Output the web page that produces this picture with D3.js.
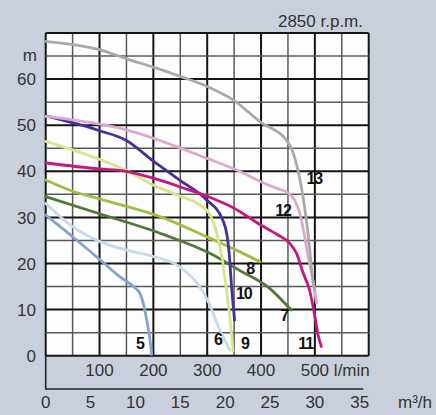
<!DOCTYPE html>
<html lang="en">
<head>
    <meta charset="UTF-8">
    <title>Pump curves 2850 rpm</title>
    <script src="https://cdn.jsdelivr.net/npm/d3@7"></script>
    <style>
        body { margin: 0; background: #c9d0dc; }
        text { font-family: "Liberation Sans", Arial, sans-serif; fill: #333; }
        .curveLabel { font-weight: bold; fill: #111; letter-spacing: -1px; }
    </style>
</head>
<body>
<div id="chart"></div>

<script>
    const width = 436;
    const height = 415;

    // head (m) against flow (l/min)
    const pump5 = [[0, 30.5], [50, 25.8], [100, 20.9], [138, 17.1], [163, 15], [175, 13.5], [183, 10.5], [188, 7.5], [193, 4], [197, 0.3]];
    const pump6 = [[0, 33], [50, 28], [100, 24.8], [150, 22.9], [200, 21.5], [250, 19.2], [286, 15], [305, 11], [320, 6.5], [332, 3.5], [342, 1.2]];
    const pump7 = [[0, 34.5], [100, 30.8], [221, 26.2], [305, 22.2], [360, 18.5], [416, 14.6], [456, 9.9]];
    const pump8 = [[0, 38.1], [45, 35.9], [100, 34], [221, 29.8], [305, 25.5], [354, 22.9], [398, 20.4]];
    const pump9 = [[0, 46.5], [100, 42.6], [150, 40.2], [200, 37], [250, 34.6], [285, 32.8], [305, 30.6], [318, 26.5], [328, 21], [336, 14], [342, 8.5], [348, 1]];
    const pump10 = [[0, 52], [100, 48.8], [150, 46.7], [200, 42.2], [250, 38], [296, 34.1], [329, 29.4], [337, 26], [341, 22], [344, 17], [347, 12.5], [351, 7.7]];
    const pump11 = [[0, 41.8], [100, 40.5], [150, 40], [200, 38.5], [250, 36.6], [300, 34.6], [350, 32], [400, 28.3], [430, 26.3], [453, 24.4], [466, 22.2], [478, 18], [490, 14.3], [500, 8.5], [506, 4.5], [512, 2]];
    const pump12 = [[0, 51.9], [150, 49], [300, 42.8], [360, 40], [410, 37.2], [430, 36.3], [450, 35.3], [462, 33.8], [472, 30.9], [480, 26.5], [486, 22.5], [492, 19], [497, 16], [503, 11.4]];
    const pump13 = [[0, 68.2], [50, 67.5], [100, 66.4], [150, 64.4], [200, 62.6], [250, 60.6], [300, 58.4], [348, 55.5], [401, 50.5], [447, 46.8], [458, 44.5], [468, 40.5], [478, 34.5], [490, 23.6], [496, 16.4], [500, 14.2]];

    const pumpNames = ["5", "6", "7", "8", "9", "10", "11", "12", "13"];
    const pumpColors = ["#86a2cf", "#c9d9ea", "#4f7a3a", "#a3bf3f", "#d8e48c", "#45309a", "#c41a7e", "#dca8cc", "#a9a9a9"];
    // where each number sits, in l/min and m
    const labelFlow = [175, 320, 443, 380, 370, 368, 483, 441, 499];
    const labelHead = [2.7, 3.6, 8.8, 19, 2.7, 13.5, 2.7, 31.6, 38.6];

    const headTicks = [0, 10, 20, 30, 40, 50, 60];
    const flowTicks = [100, 200, 300, 400, 500];
    const cubicTicks = [0, 5, 10, 15, 20, 25, 30, 35];

    const pumps = [pump5, pump6, pump7, pump8, pump9, pump10, pump11, pump12, pump13];

    const x = d3.scaleLinear().domain([0, 600]).range([45.7, 368.7]);
    const y = d3.scaleLinear().domain([0, 70]).range([355.7, 33]);

    const svg = d3.select("#chart")
        .append("svg")
        .attr("width", width)
        .attr("height", height);

    svg.append("rect")
        .attr("width", width)
        .attr("height", height)
        .attr("fill", "#c9d0dc");

    svg.append("rect")
        .attr("x", x(0))
        .attr("y", y(70))
        .attr("width", x(600) - x(0))
        .attr("height", y(0) - y(70))
        .attr("fill", "#fdfdfd");

    // grid: thin every 50 l/min and 5 m, heavy every 100 l/min and 10 m
    const grid = svg.append("g");
    grid.selectAll("line.v").data(d3.range(0, 601, 50)).enter()
        .append("line")
        .attr("class", "v")
        .attr("x1", d => x(d)).attr("x2", d => x(d))
        .attr("y1", y(0)).attr("y2", y(70))
        .attr("stroke", d => d % 100 === 0 ? "#151515" : "#5a5a5a")
        .attr("stroke-width", d => d % 100 === 0 ? 2 : 1.5);

    grid.selectAll("line.h").data(d3.range(0, 71, 5)).enter()
        .append("line")
        .attr("class", "h")
        .attr("y1", d => y(d)).attr("y2", d => y(d))
        .attr("x1", x(0)).attr("x2", x(600))
        .attr("stroke", d => d % 10 === 0 ? "#151515" : "#5a5a5a")
        .attr("stroke-width", d => d % 10 === 0 ? 2 : 1.5);

    const line = d3.line()
        .x(d => x(d[0]))
        .y(d => y(d[1]))
        .curve(d3.curveMonotoneX);

    svg.append("g").selectAll("path").data(pumps).enter()
        .append("path")
        .attr("d", line)
        .attr("fill", "none")
        .attr("stroke", (d, i) => pumpColors[i])
        .attr("stroke-width", 2.8)
        .attr("stroke-linecap", "round");

    svg.append("g").selectAll("text").data(pumpNames).enter()
        .append("text")
        .attr("class", "curveLabel")
        .attr("x", (d, i) => x(labelFlow[i]))
        .attr("y", (d, i) => y(labelHead[i]))
        .attr("text-anchor", "middle")
        .attr("dy", "0.36em")
        .attr("font-size", 16)
        .text(d => d);

    // head axis labels
    svg.append("g").selectAll("text").data(headTicks).enter()
        .append("text")
        .attr("x", 36)
        .attr("y", d => y(d))
        .attr("dy", "0.36em")
        .attr("text-anchor", "end")
        .attr("font-size", 17)
        .text(d => d);

    svg.append("text")
        .attr("x", 37)
        .attr("y", y(65))
        .attr("dy", "0.3em")
        .attr("text-anchor", "end")
        .attr("font-size", 17)
        .text("m");

    svg.append("text")
        .attr("x", 363)
        .attr("y", 27)
        .attr("text-anchor", "end")
        .attr("font-size", 17)
        .text("2850 r.p.m.");

    // l/min labels under the grid
    svg.append("g").selectAll("text").data(flowTicks).enter()
        .append("text")
        .attr("x", d => x(d))
        .attr("y", 370)
        .attr("dy", "0.36em")
        .attr("text-anchor", "middle")
        .attr("font-size", 17)
        .text(d => d);

    svg.append("text")
        .attr("x", x(500) + 19)
        .attr("y", 370)
        .attr("dy", "0.36em")
        .attr("font-size", 17)
        .text("l/min");

    // m3/h scale
    svg.append("path")
        .attr("d", "M" + x(0) + "," + y(0) + "V389H" + x(590))
        .attr("fill", "none")
        .attr("stroke", "#222")
        .attr("stroke-width", 1.6);

    svg.append("g").selectAll("text").data(cubicTicks).enter()
        .append("text")
        .attr("x", d => x(d * 1000 / 60))
        .attr("y", 402)
        .attr("dy", "0.36em")
        .attr("text-anchor", "middle")
        .attr("font-size", 17)
        .text(d => d);

    svg.append("text")
        .attr("x", 398)
        .attr("y", 402)
        .attr("dy", "0.36em")
        .attr("font-size", 17)
        .text("m³/h");
</script>

</body>
</html>
